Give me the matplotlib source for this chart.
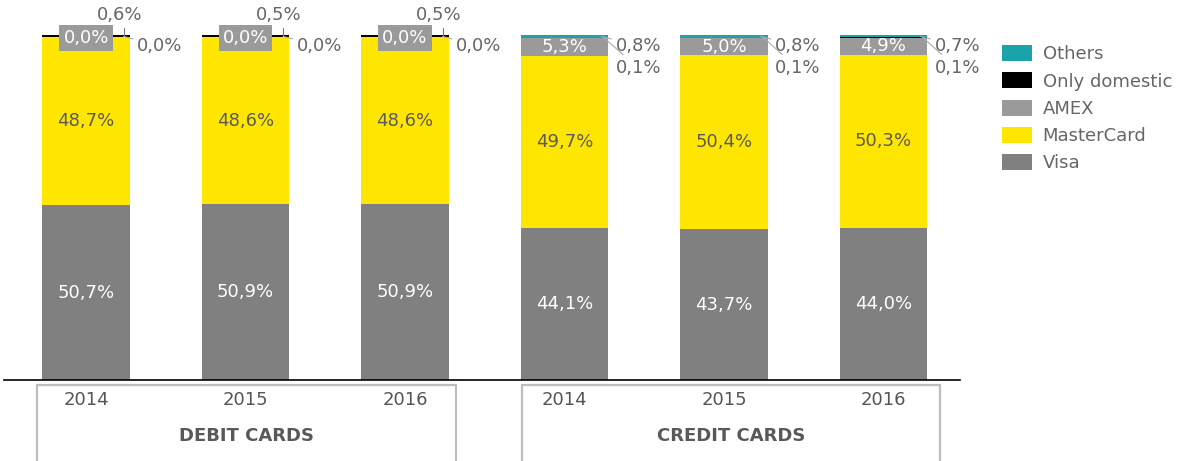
import numpy as np
import matplotlib
matplotlib.use("Agg")
import matplotlib.pyplot as plt
from matplotlib.patches import Rectangle

plt.rcParams['font.family'] = ['DejaVu Sans']

years = ['2014', '2015', '2016', '2014', '2015', '2016']
groups = ['DEBIT CARDS', 'CREDIT CARDS']
visa = [50.7, 50.9, 50.9, 44.1, 43.7, 44.0]
mastercard = [48.7, 48.6, 48.6, 49.7, 50.4, 50.3]
amex = [0.0, 0.0, 0.0, 5.3, 5.0, 4.9]
only_domestic = [0.6, 0.5, 0.5, 0.1, 0.1, 0.1]
others = [0.0, 0.0, 0.0, 0.8, 0.8, 0.7]

series = [('Visa', visa, '#808080'),
          ('MasterCard', mastercard, '#ffe600'),
          ('AMEX', amex, '#9a9a9a'),
          ('Only domestic', only_domestic, '#000000'),
          ('Others', others, '#1aa3ab')]

def fmt(v):
    return f'{v:.1f}%'.replace('.', ',')

txt = '#666666'
fs = 13
fig = plt.figure(figsize=(11.86, 4.61), dpi=100)
ax = fig.add_axes([4/1186, 1-380/461, 956/1186, 345/461])

x = np.arange(len(years))
w = 0.55
bottom = np.zeros(len(years))
bars = {}
for name, vals, col in series:
    bars[name] = ax.bar(x, vals, w, bottom=bottom, color=col, label=name, zorder=2)
    bottom += np.array(vals)

for i in range(len(years)):
    # labels inside the bars
    ax.text(x[i], visa[i]/2, fmt(visa[i]), ha='center', va='center', color='white', fontsize=fs)
    ax.text(x[i], visa[i] + mastercard[i]/2, fmt(mastercard[i]), ha='center', va='center', color='#5a5a5a', fontsize=fs)
    top_mc = visa[i] + mastercard[i]
    if amex[i] > 1:
        ax.text(x[i], top_mc + amex[i]/2, fmt(amex[i]), ha='center', va='center', color='white', fontsize=fs)
    else:
        ax.text(x[i], 99.2, fmt(amex[i]), ha='center', va='center', color='white', fontsize=fs,
                bbox=dict(boxstyle='square,pad=0.22', fc='#9a9a9a', ec='none'), zorder=4)
    if i < 3:
        # only domestic above, others to the right
        ax.annotate(fmt(only_domestic[i]), xy=(x[i] + 0.235, 99.6), xytext=(x[i] + 0.21, 105.9),
                    ha='center', va='center', color=txt, fontsize=fs, annotation_clip=False,
                    arrowprops=dict(arrowstyle='-', color='#777777', lw=0.8, shrinkA=1, shrinkB=0,
                                    connectionstyle='angle,angleA=0,angleB=90,rad=0'))
        ax.annotate(fmt(others[i]), xy=(x[i] + 0.235, 99.6), xytext=(x[i] + 0.32, 96.8),
                    ha='left', va='center', color=txt, fontsize=fs, annotation_clip=False,
                    arrowprops=dict(arrowstyle='-', color='#aaaaaa', lw=0.8, shrinkA=1, shrinkB=0))
    else:
        ax.annotate(fmt(others[i]), xy=(x[i] + 0.23, 99.6), xytext=(x[i] + 0.32, 96.8),
                    ha='left', va='center', color=txt, fontsize=fs, annotation_clip=False,
                    arrowprops=dict(arrowstyle='-', color='#aaaaaa', lw=0.8, shrinkA=1, shrinkB=0))
        ax.annotate(fmt(only_domestic[i]), xy=(x[i] + 0.245, 99.3), xytext=(x[i] + 0.32, 90.4),
                    ha='left', va='center', color=txt, fontsize=fs, annotation_clip=False,
                    arrowprops=dict(arrowstyle='-', color='#aaaaaa', lw=0.8, shrinkA=2, shrinkB=0))

ax.set_xlim(-0.515, 5.48)
ax.set_ylim(0, 100)
for s in ['top', 'right', 'left']:
    ax.spines[s].set_visible(False)
ax.spines['bottom'].set_linewidth(1.2)
ax.set_yticks([])
ax.set_xticks(x)
ax.set_xticklabels(years, fontsize=fs, color='#555555')
ax.tick_params(axis='x', length=0, pad=8)

# group boxes and labels
for gx0, gx1, name in [(37, 456, groups[0]), (522, 940, groups[1])]:
    fig.add_artist(Rectangle((gx0/1186, -0.05), (gx1-gx0)/1186, 0.05 + 1-385/461,
                             transform=fig.transFigure, fill=False, ec='#bdbdbd', lw=1.6))
    fig.text((gx0+gx1)/2/1186, 1-436/461, name, ha='center', va='center', fontsize=13,
             fontweight='bold', color='#595959')

labels = ['Others', 'Only domestic', 'AMEX', 'MasterCard', 'Visa']
handles = [bars[n] for n in labels]
leg = fig.legend(handles, labels, loc='upper left', bbox_to_anchor=(1002/1186, 1-45/461),
                 frameon=False, fontsize=fs, handlelength=1.65, handleheight=1.0,
                 labelspacing=0.5, handletextpad=0.6, borderpad=0, borderaxespad=0)
for t in leg.get_texts():
    t.set_color(txt)

fig.savefig('out.png', dpi=100)
